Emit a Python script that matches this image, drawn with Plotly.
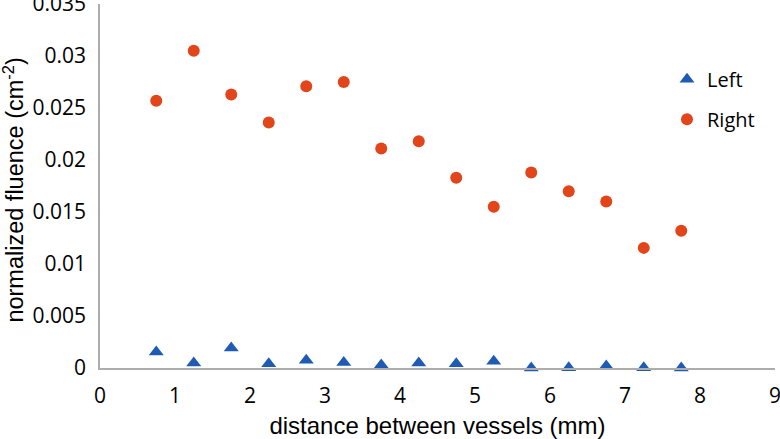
import plotly.graph_objects as go

distance = [0.75, 1.25, 1.75, 2.25, 2.75, 3.25, 3.75, 4.25, 4.75, 5.25, 5.75, 6.25, 6.75, 7.25, 7.75]
left_vals = [0.00154, 0.00048, 0.00192, 0.00042, 0.00074, 0.00052, 0.00029, 0.00048, 0.00042, 0.00064,
             0.00000, 0.00002, 0.00020, 0.00002, 0.00000]
right_vals = [0.0257, 0.0305, 0.0263, 0.0236, 0.0271, 0.0275, 0.0211, 0.0218, 0.0183, 0.0155,
              0.0188, 0.0170, 0.0160, 0.01155, 0.0132]
x_ticks = [0, 1, 2, 3, 4, 5, 6, 7, 8, 9]
y_ticks = [0, 0.005, 0.01, 0.015, 0.02, 0.025, 0.03, 0.035]
y_tick_text = ["0", "0.005", "0.01", "0.015", "0.02", "0.025", "0.03", "0.035"]

fig = go.Figure()
fig.add_trace(go.Scatter(x=distance, y=left_vals, mode="markers", name="Left",
                         legendgroup="a",
                         marker=dict(symbol="triangle-up", size=13, color="#1F5BB5"),
                         cliponaxis=False))
fig.add_trace(go.Scatter(x=distance, y=right_vals, mode="markers", name="Right",
                         legendgroup="b",
                         marker=dict(symbol="circle", size=12, color="#E2451A"),
                         cliponaxis=False))

fig.update_layout(
    width=780, height=439,
    margin=dict(l=100, r=5, t=4, b=71, autoexpand=False),
    paper_bgcolor="white", plot_bgcolor="white",
    font=dict(family="Open Sans", size=21, color="black"),
    showlegend=True,
    legend=dict(x=0.84, y=0.847, xanchor="left", yanchor="top",
                font=dict(family="Open Sans", size=20),
                tracegroupgap=11, itemwidth=30, bgcolor="rgba(0,0,0,0)"),
    xaxis=dict(range=[0, 9], tickvals=x_ticks, showgrid=False, zeroline=False,
               showline=True, linecolor="#ADADAD", linewidth=1.5, automargin=False,
               ticks="", ticklabelstandoff=8, ticklabeloverflow="allow",
               title=dict(text="distance between vessels (mm)",
                          font=dict(family="Liberation Sans", size=24), standoff=10)),
    yaxis=dict(range=[0, 0.035], tickvals=y_ticks, ticktext=y_tick_text,
               showgrid=False, zeroline=False, automargin=False,
               showline=True, linecolor="#ADADAD", linewidth=1.5,
               ticks="", ticklabelstandoff=8, ticklabeloverflow="allow"),
    annotations=[dict(text="normalized fluence (cm<sup>-2</sup>)", textangle=-90,
                      xref="paper", yref="paper", x=-0.128, y=0.489,
                      xanchor="center", yanchor="middle", showarrow=False,
                      font=dict(family="Liberation Sans", size=23.5, color="black"))],
)

fig.write_html("out.html", config={"displayModeBar": False},
               post_script="document.body.style.margin='0';")
